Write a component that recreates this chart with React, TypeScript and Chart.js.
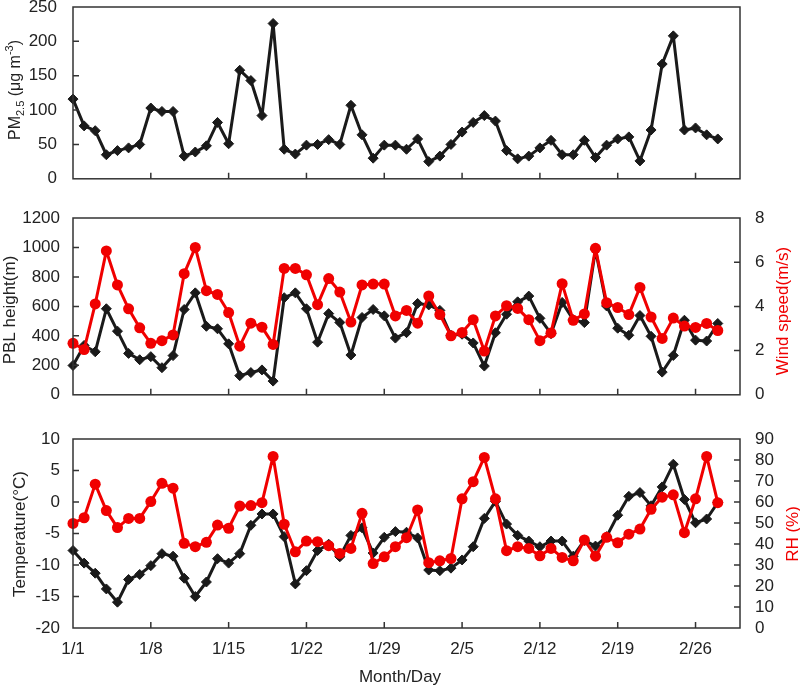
import React, { useEffect, useRef } from 'react';
import { Chart, registerables } from 'chart.js';

Chart.register(...registerables);

// ---------------- data ----------------
const xTickDays = [0, 7, 14, 21, 28, 35, 42, 49, 56];
const xTickLabels = ['1/1', '1/8', '1/15', '1/22', '1/29', '2/5', '2/12', '2/19', '2/26'];

const pm25 = [116, 77, 70, 35, 41, 45, 50, 103, 98, 98, 33, 39, 48, 82, 51, 158, 143, 92, 226, 43, 36, 49, 50, 57, 50, 107, 64, 30, 49, 49, 43, 58, 25, 33, 50, 68, 82, 92, 84, 41, 29, 33, 45, 56, 35, 35, 56, 31, 49, 58, 61, 26, 71, 167, 208, 71, 74, 64, 58];

const pbl = [199, 335, 292, 584, 432, 281, 238, 259, 184, 266, 579, 692, 465, 448, 346, 130, 151, 169, 93, 659, 692, 584, 357, 551, 491, 270, 525, 579, 536, 385, 422, 620, 610, 573, 404, 411, 352, 195, 421, 547, 631, 670, 519, 415, 627, 510, 490, 985, 603, 452, 404, 538, 397, 154, 267, 506, 371, 365, 484];

const wind = [2.33, 2.05, 4.11, 6.51, 4.97, 3.89, 3.03, 2.33, 2.45, 2.71, 5.48, 6.67, 4.71, 4.54, 3.72, 2.2, 3.24, 3.06, 2.28, 5.72, 5.72, 5.43, 4.08, 5.26, 4.65, 3.29, 4.97, 5.01, 5.01, 3.57, 3.82, 3.24, 4.47, 3.63, 2.67, 2.82, 3.4, 1.98, 3.57, 4.03, 3.91, 3.4, 2.45, 2.8, 5.03, 3.37, 3.66, 6.63, 4.17, 3.95, 3.63, 4.86, 3.52, 2.55, 3.47, 3.11, 3.05, 3.23, 2.91];

const temp = [-7.7, -9.7, -11.3, -13.8, -15.9, -12.3, -11.5, -10.1, -8.2, -8.6, -12.1, -15.0, -12.7, -9.0, -9.7, -8.2, -3.7, -1.9, -1.9, -5.5, -13.0, -10.9, -7.7, -6.7, -8.7, -5.3, -4.1, -8.1, -5.6, -4.7, -4.8, -5.7, -10.8, -10.9, -10.5, -9.2, -7.1, -2.6, 0.1, -3.5, -5.3, -6.2, -7.1, -6.2, -6.2, -8.6, -6.1, -7.0, -5.5, -2.1, 0.9, 1.5, -0.6, 2.4, 6.0, 0.4, -3.3, -2.7, -0.1];

const rh = [49.8, 52.5, 68.5, 55.9, 47.8, 52.2, 52.2, 60.2, 68.9, 66.6, 40.3, 38.7, 40.8, 49.0, 47.5, 58.1, 58.3, 59.7, 81.7, 49.4, 36.3, 41.4, 41.1, 39.2, 35.5, 37.9, 54.6, 30.7, 33.9, 38.7, 43.0, 56.2, 31.1, 32.0, 33.1, 61.5, 69.7, 81.2, 61.5, 36.8, 38.7, 37.9, 34.4, 37.9, 33.6, 32.0, 41.9, 34.2, 43.2, 40.6, 44.7, 47.1, 56.5, 62.3, 63.4, 45.4, 61.5, 81.7, 59.7];

// ---------------- styles ----------------
const FONT = '"Liberation Sans", Arial, Helvetica, sans-serif';
const TEXT = '#222222';
const RED = '#f00000';
const BLACK = '#1a1a1a';
const FRAME = '#333333';
const TICK_FONT = { family: FONT, size: 17 };

type Seg = { t: string; s: number; dy?: number };
type TitleSpec = { x: number; y: number; rot: boolean; color: string; segs: Seg[] };

const toXY = (arr: number[]) => arr.map((v, i) => ({ x: i, y: v }));

const framePlugin = {
  id: 'frameTicks',
  afterDraw(chart: any) {
    const { ctx, chartArea } = chart;
    const { left, right, top, bottom } = chartArea;
    ctx.save();
    ctx.strokeStyle = FRAME;
    ctx.lineWidth = 1.5;
    ctx.strokeRect(left, top, right - left, bottom - top);
    const len = 6;
    ctx.beginPath();
    const xs = chart.scales.x;
    xs.ticks.forEach((t: any) => {
      const px = xs.getPixelForValue(t.value);
      if (px <= left + 1 || px >= right - 1) return;
      ctx.moveTo(px, bottom);
      ctx.lineTo(px, bottom - len);
    });
    ['y', 'y2'].forEach((id) => {
      const s = chart.scales[id];
      if (!s) return;
      s.ticks.forEach((t: any) => {
        const py = s.getPixelForValue(t.value);
        if (py <= top + 1 || py >= bottom - 1) return;
        if (s.position === 'left') {
          ctx.moveTo(left, py);
          ctx.lineTo(left + len, py);
        } else {
          ctx.moveTo(right, py);
          ctx.lineTo(right - len, py);
        }
      });
    });
    ctx.stroke();
    ctx.restore();
  },
};

const titlePlugin = (specs: TitleSpec[]) => ({
  id: 'customTitles',
  afterDraw(chart: any) {
    const ctx = chart.ctx;
    specs.forEach((sp) => {
      ctx.save();
      ctx.translate(sp.x, sp.y);
      if (sp.rot) ctx.rotate(-Math.PI / 2);
      ctx.fillStyle = sp.color;
      ctx.textBaseline = 'alphabetic';
      ctx.textAlign = 'left';
      let total = 0;
      const widths = sp.segs.map((s) => {
        ctx.font = `${s.s}px ${FONT}`;
        const w = ctx.measureText(s.t).width;
        total += w;
        return w;
      });
      let cx = -total / 2;
      const base = sp.segs[0].s * 0.36;
      sp.segs.forEach((s, i) => {
        ctx.font = `${s.s}px ${FONT}`;
        ctx.fillText(s.t, cx, base + (s.dy || 0));
        cx += widths[i];
      });
      ctx.restore();
    });
  },
});

type YAxis = { min: number; max: number; step: number; pos: 'left' | 'right'; pad: number };

type PanelCfg = {
  top: number;
  height: number;
  padTop: number;
  padBottom: number;
  padRight: number;
  xHeight: number;
  showX: boolean;
  datasets: any[];
  y: YAxis;
  y2?: YAxis;
  titles: TitleSpec[];
};

const yTicks = (a: YAxis) => ({
  stepSize: a.step,
  padding: a.pad,
  font: TICK_FONT,
  color: TEXT,
  autoSkip: false,
  callback: (v: number) => String(v),
});

function buildConfig(p: PanelCfg): any {
  const scales: any = {
    x: {
      type: 'linear',
      min: 0,
      max: 60,
      afterBuildTicks: (s: any) => {
        s.ticks = xTickDays.map((v) => ({ value: v }));
      },
      afterFit: (s: any) => {
        s.height = p.xHeight;
      },
      grid: { display: false, drawTicks: false },
      border: { display: false },
      ticks: {
        display: p.showX,
        autoSkip: false,
        maxRotation: 0,
        padding: 11,
        font: TICK_FONT,
        color: TEXT,
        callback: (v: number) => {
          const i = xTickDays.indexOf(v);
          return i >= 0 ? xTickLabels[i] : '';
        },
      },
    },
    y: {
      type: 'linear',
      position: 'left',
      min: p.y.min,
      max: p.y.max,
      afterFit: (s: any) => {
        s.width = 73;
      },
      grid: { display: false, drawTicks: false },
      border: { display: false },
      ticks: yTicks(p.y),
    },
  };
  if (p.y2) {
    scales.y2 = {
      type: 'linear',
      position: 'right',
      min: p.y2.min,
      max: p.y2.max,
      afterFit: (s: any) => {
        s.width = 60;
      },
      grid: { display: false, drawTicks: false },
      border: { display: false },
      ticks: yTicks(p.y2),
    };
  }
  return {
    type: 'line',
    data: { datasets: p.datasets },
    options: {
      responsive: false,
      animation: false,
      devicePixelRatio: 1,
      layout: { padding: { top: p.padTop, bottom: p.padBottom, left: 0, right: p.padRight } },
      plugins: { legend: { display: false }, tooltip: { enabled: false } },
      scales,
    },
    plugins: [framePlugin, titlePlugin(p.titles)],
  };
}

const blackDs = (data: number[], yAxisID: string) => ({
  data: toXY(data),
  yAxisID,
  borderColor: BLACK,
  backgroundColor: BLACK,
  borderWidth: 3,
  borderJoinStyle: 'round',
  pointStyle: 'rectRot',
  pointRadius: 5,
  pointBorderWidth: 1,
  pointBorderColor: BLACK,
  pointBackgroundColor: BLACK,
  tension: 0,
  clip: false,
});

const redDs = (data: number[], yAxisID: string) => ({
  data: toXY(data),
  yAxisID,
  borderColor: RED,
  backgroundColor: RED,
  borderWidth: 3,
  borderJoinStyle: 'round',
  pointStyle: 'circle',
  pointRadius: 5.5,
  pointBorderWidth: 0,
  pointBackgroundColor: RED,
  tension: 0,
  clip: false,
});

const panels: PanelCfg[] = [
  {
    top: -20,
    height: 225,
    padTop: 27,
    padBottom: 10,
    padRight: 60,
    xHeight: 5,
    showX: false,
    datasets: [blackDs(pm25, 'y')],
    y: { min: 0, max: 250, step: 50, pos: 'left', pad: 16 },
    titles: [
      {
        x: 14,
        y: 110,
        rot: true,
        color: TEXT,
        segs: [
          { t: 'PM', s: 16 },
          { t: '2.5', s: 11, dy: 4 },
          { t: ' (μg m', s: 16 },
          { t: '-3', s: 11, dy: -7 },
          { t: ')', s: 16 },
        ],
      },
    ],
  },
  {
    top: 190,
    height: 230,
    padTop: 28,
    padBottom: 12,
    padRight: 0,
    xHeight: 5,
    showX: false,
    datasets: [redDs(wind, 'y2'), blackDs(pbl, 'y')],
    y: { min: 0, max: 1200, step: 200, pos: 'left', pad: 13 },
    y2: { min: 0, max: 8, step: 2, pos: 'right', pad: 15 },
    titles: [
      { x: 9, y: 120, rot: true, color: TEXT, segs: [{ t: 'PBL height(m)', s: 17 }] },
      { x: 782, y: 121, rot: true, color: RED, segs: [{ t: 'Wind speed(m/s)', s: 17 }] },
    ],
  },
  {
    top: 410,
    height: 275,
    padTop: 29,
    padBottom: 0,
    padRight: 0,
    xHeight: 57,
    showX: true,
    datasets: [redDs(rh, 'y2'), blackDs(temp, 'y')],
    y: { min: -20, max: 10, step: 5, pos: 'left', pad: 13 },
    y2: { min: 0, max: 90, step: 10, pos: 'right', pad: 15 },
    titles: [
      { x: 19, y: 124, rot: true, color: TEXT, segs: [{ t: 'Temperature(°C)', s: 17 }] },
      { x: 792, y: 124, rot: true, color: RED, segs: [{ t: 'RH (%)', s: 17 }] },
      { x: 400, y: 266, rot: false, color: TEXT, segs: [{ t: 'Month/Day', s: 17 }] },
    ],
  },
];

function Panel({ cfg }: { cfg: PanelCfg }) {
  const ref = useRef<HTMLCanvasElement | null>(null);
  useEffect(() => {
    if (!ref.current) return;
    const chart = new Chart(ref.current, buildConfig(cfg));
    return () => chart.destroy();
  }, [cfg]);
  return (
    <canvas
      ref={ref}
      width={800}
      height={cfg.height}
      style={{ position: 'absolute', left: 0, top: cfg.top, width: 800, height: cfg.height }}
    />
  );
}

export default function App() {
  return (
    <div style={{ position: 'absolute', left: 0, top: 0, width: 800, height: 685, background: '#fff', overflow: 'hidden' }}>
      {panels.map((p, i) => (
        <Panel key={i} cfg={p} />
      ))}
    </div>
  );
}
